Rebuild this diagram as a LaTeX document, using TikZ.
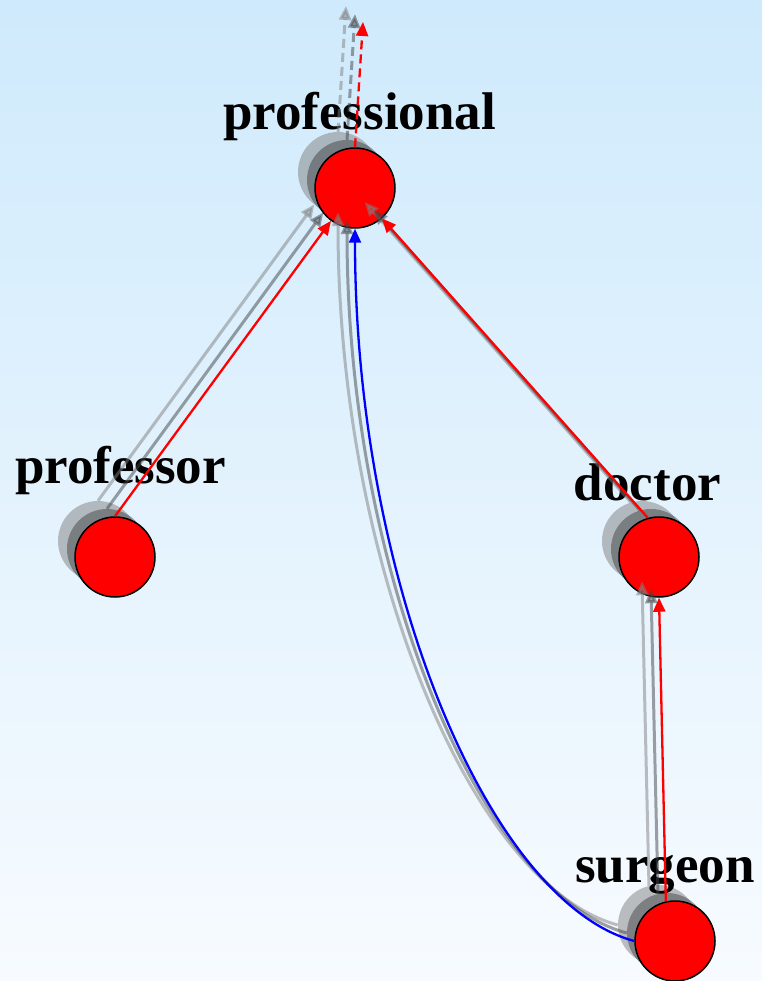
\documentclass[tikz,border=0pt]{standalone}
\usepackage{fontspec}
\setmainfont{Liberation Serif}
\usetikzlibrary{arrows.meta, calc, positioning}
\definecolor{bgtop}{RGB}{207,234,252}
\definecolor{bgbottom}{RGB}{247,251,255}
\definecolor{ghostlight}{RGB}{128,128,128}
\definecolor{ghostdark}{RGB}{66,68,70}

\tikzset{
	concept/.style={circle, draw=black, line width=1.5pt, fill=red, minimum size=80pt, inner sep=0pt},
	ghost/.style={circle, fill=#1, opacity=0.5, minimum size=80pt, inner sep=0pt},
	conceptlabel/.style={anchor=base, inner sep=0pt, font=\fontsize{53}{60}\selectfont\bfseries},
	isa/.style={-{Triangle[length=14pt, width=12pt]}, line width=2.3pt},
	ghostedge/.style={isa, draw=#1, opacity=0.5, line width=3pt},
	uplink/.style={dash pattern=on 9pt off 5pt}
}

\begin{document}
\begin{tikzpicture}[x=1pt, y=-1pt]
		\useasboundingbox (0,0) rectangle (762,981);
		\shade [top color=bgtop, bottom color=bgbottom] (0,0) rectangle (762,981);
		% older positions, faded
		\foreach \g/\dx/\dy/\c in {a/-17/-16/ghostlight, b/-8/-8/ghostdark}{
			\foreach \n/\x/\y in {professional/355/188, professor/115/557, doctor/659/557, surgeon/675/941}{
				\node [ghost=\c] (\n-\g) at (\x+\dx,\y+\dy) {};
			}
			\coordinate (top-\g) at (363+\dx,22+\dy);
		}
		\node [concept] (professional) at (355,188) {};
		\node [concept] (professor) at (115,557) {};
		\node [concept] (doctor) at (659,557) {};
		\node [concept] (surgeon) at (675,941) {};
		\coordinate (top) at (363,22);
		
		\node [conceptlabel] (professional-lab) at (359.5,130) {professional};
		\node [conceptlabel] (professor-lab) at (120.5,483) {professor};
		\node [conceptlabel] (doctor-lab) at (647.5,500) {doctor};
		\node [conceptlabel] (surgeon-lab) at (665,882) {surgeon};
		
		\foreach \g/\c in {a/ghostlight, b/ghostdark}{
			\draw [ghostedge=\c] (professor-\g.north) -- (professional-\g);
			\draw [ghostedge=\c] (doctor-\g.106) -- (professional-\g);
			\draw [ghostedge=\c] (surgeon-\g.103) -- (doctor-\g.south);
			\draw [ghostedge=\c] (surgeon-\g.west) .. controls +(-145,-39) and +(0,354) .. (professional-\g.south);
			\draw [ghostedge=\c, uplink] (professional-\g.north) -- (top-\g);
		}
		\draw [isa, red] (professor.north) -- (professional);
		\draw [isa, red] (doctor.106) -- (professional);
		\draw [isa, red] (surgeon.103) -- (doctor.south);
		\draw [isa, blue] (surgeon.west) .. controls +(-145,-39) and +(0,354) .. (professional.south);
		\draw [isa, red, uplink] (professional.north) -- (top);
		
	\end{tikzpicture}
\end{document}
